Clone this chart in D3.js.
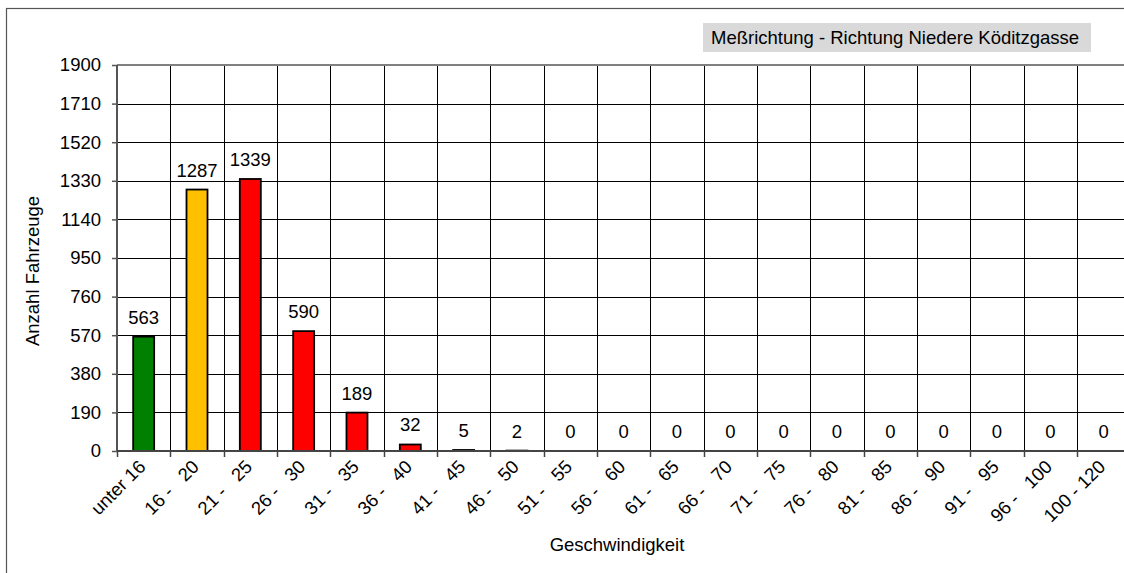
<!DOCTYPE html>
<html><head><meta charset="utf-8">
<script src="https://cdn.jsdelivr.net/npm/d3@7"></script>
<style>
html,body{margin:0;padding:0;background:#fff;overflow:hidden}
text{font-family:"Liberation Sans",Arial,sans-serif;fill:#000}
</style></head>
<body>
<svg id="c" width="1124" height="573"></svg>
<script>
const categories = ["unter 16","16 -   20","21 -   25","26 -   30","31 -   35","36 -   40","41 -   45","46 -   50","51 -   55","56 -   60","61 -   65","66 -   70","71 -   75","76 -   80","81 -   85","86 -   90","91 -   95","96 -   100","100 - 120"];
const values = [563,1287,1339,590,189,32,5,2,0,0,0,0,0,0,0,0,0,0,0];
const barColors = ["#008000","#FFC000","#FF0000","#FF0000","#FF0000","#FF0000","#FF0000","#FF0000","#FF0000","#FF0000","#FF0000","#FF0000","#FF0000","#FF0000","#FF0000","#FF0000","#FF0000","#FF0000","#FF0000"];
const yTicks = [0,190,380,570,760,950,1140,1330,1520,1710,1900];
const legendText = "Meßrichtung - Richtung Niedere Köditzgasse";
const xTitle = "Geschwindigkeit";
const yTitle = "Anzahl Fahrzeuge";

const svg = d3.select("#c");
const fs = 18.5;
// outer frame
svg.append("rect").attr("x",6.5).attr("y",8.5).attr("width",1200).attr("height",600)
  .attr("fill","#fff").attr("stroke","#555").attr("stroke-width",1.2);

const L = 117, T = 65, B = 451, bandW = 53.33;
const R = L + bandW*categories.length;
const x = d3.scaleBand().domain(categories).range([L, R]).paddingInner(0).paddingOuter(0);
const y = d3.scaleLinear().domain([0,1900]).range([B, T]);

// horizontal grid
svg.append("g").selectAll("line").data(yTicks.filter(d=>d>0 && d<1900)).join("line")
  .attr("x1",L).attr("x2",R).attr("y1",d=>Math.round(y(d))+0.5).attr("y2",d=>Math.round(y(d))+0.5)
  .attr("stroke","#000").attr("stroke-width",1);
// vertical grid
svg.append("g").selectAll("line").data(categories.slice(1)).join("line")
  .attr("x1",d=>Math.round(x(d))+0.5).attr("x2",d=>Math.round(x(d))+0.5)
  .attr("y1",T).attr("y2",B).attr("stroke","#000").attr("stroke-width",1);
// plot top border
svg.append("line").attr("x1",L).attr("x2",R).attr("y1",T).attr("y2",T).attr("stroke","#808080").attr("stroke-width",2);

// bars
const bw = 21;
svg.append("g").selectAll("rect").data(values).join("rect")
  .attr("x",(d,i)=>x(categories[i])+x.bandwidth()/2-bw/2)
  .attr("y",d=>y(d))
  .attr("width",bw)
  .attr("height",d=>B-y(d))
  .attr("fill",(d,i)=>barColors[i])
  .attr("stroke","#000").attr("stroke-width",d=>d>0?1.8:0);

// value labels
svg.append("g").selectAll("text").data(values).join("text")
  .attr("x",(d,i)=>x(categories[i])+x.bandwidth()/2)
  .attr("y",d=>y(d)-13)
  .attr("text-anchor","middle").attr("font-size",fs)
  .text(d=>d);

// y axis
const yAxis = d3.axisLeft(y).tickValues(yTicks).tickSize(5).tickPadding(11).tickFormat(d3.format("d"));
const ga = svg.append("g").attr("transform",`translate(${L},0)`).call(yAxis);
ga.select(".domain").attr("stroke","#555").attr("stroke-width",2).attr("d",`M0,${T}V${B}`);
ga.selectAll(".tick line").attr("stroke","#555").attr("stroke-width",1.5);
ga.selectAll(".tick text").attr("font-size",fs).attr("font-family","Liberation Sans, Arial, sans-serif").attr("fill","#000");

// x axis
svg.append("line").attr("x1",L).attr("x2",R).attr("y1",B).attr("y2",B).attr("stroke","#444").attr("stroke-width",2);
svg.append("g").selectAll("line").data(categories).join("line")
  .attr("x1",d=>Math.round(x(d))+0.5).attr("x2",d=>Math.round(x(d))+0.5)
  .attr("y1",B).attr("y2",B+6).attr("stroke","#444").attr("stroke-width",1.5);
svg.append("g").selectAll("text").data(categories).join("text")
  .attr("transform",d=>`translate(${x(d)+x.bandwidth()/2+3},${B+17}) rotate(-45)`)
  .attr("text-anchor","end").attr("font-size",fs)
  .text(d=>d.replace(/ /g,"\u00A0"));

// titles
svg.append("text").attr("x",617).attr("y",551).attr("text-anchor","middle").attr("font-size",fs).text(xTitle);
svg.append("text").attr("transform","translate(39,271) rotate(-90)").attr("text-anchor","middle").attr("font-size",fs).text(yTitle);

// legend box
svg.append("rect").attr("x",703).attr("y",23).attr("width",388).attr("height",29).attr("fill","#d9d9d9");
svg.append("text").attr("x",711).attr("y",44).attr("font-size",fs).text(legendText);
</script>
</body></html>
